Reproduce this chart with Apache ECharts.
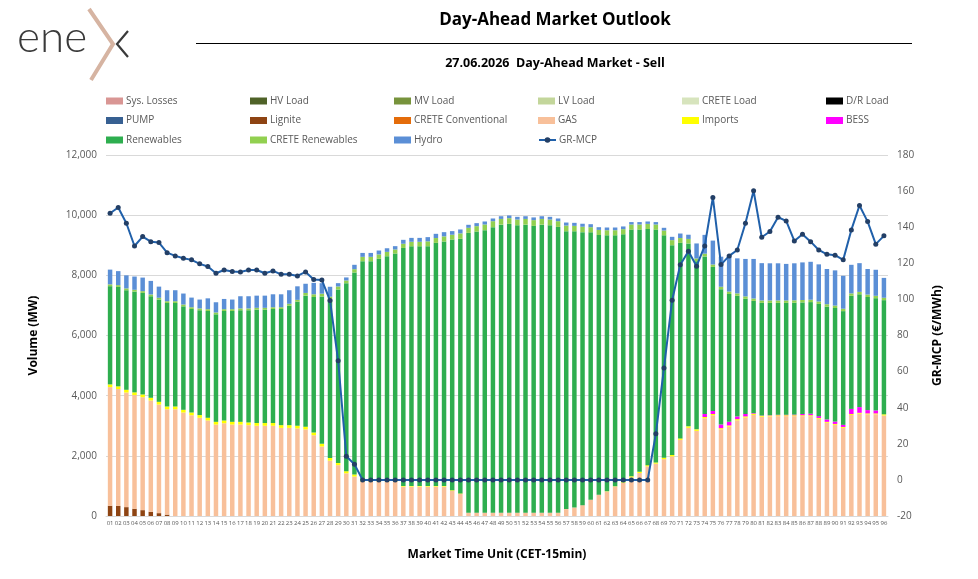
<!DOCTYPE html>
<html>
<head>
<meta charset="utf-8">
<title>Day-Ahead Market Outlook</title>
<script src="https://cdn.jsdelivr.net/npm/echarts@6/dist/echarts.min.js"></script>
<style>
html, body { margin: 0; padding: 0; background: #fff; }
#chart { width: 978px; height: 579px; }
</style>
</head>
<body>
<div id="chart"></div>
<script>
// market time units (15 min)
var mtu = ['01','02','03','04','05','06','07','08','09','10','11','12','13','14','15','16','17','18','19','20',
  '21','22','23','24','25','26','27','28','29','30','31','32','33','34','35','36','37','38','39','40',
  '41','42','43','44','45','46','47','48','49','50','51','52','53','54','55','56','57','58','59','60',
  '61','62','63','64','65','66','67','68','69','70','71','72','73','74','75','76','77','78','79','80',
  '81','82','83','84','85','86','87','88','89','90','91','92','93','94','95','96']

var lignite = [340,335,295,240,195,140,95,45,0,0,0,0,0,0,0,0,0,0,0,0,0,0,0,0,
  0,0,0,0,0,0,0,0,0,0,0,0,0,0,0,0,0,0,0,0,0,0,0,0,
  0,0,0,0,0,0,0,0,0,0,0,0,0,0,0,0,0,0,0,0,0,0,0,0,
  0,0,0,0,0,0,0,0,0,0,0,0,0,0,0,0,0,0,0,0,0,0,0,0]
var gas = [3945,3885,3810,3780,3755,3700,3610,3505,3550,3440,3350,3265,3175,3040,3085,3040,3040,3020,3000,3000,3000,2930,2930,2910,
  2880,2685,2310,1840,1690,1420,1310,1140,1140,1140,1140,1140,975,975,975,975,975,975,840,730,110,110,110,110,
  110,110,110,110,110,110,110,110,230,280,360,540,710,810,980,1100,1280,1430,1650,1740,1890,1980,2530,2930,
  2830,3250,3350,2880,2970,3180,3270,3360,3300,3310,3320,3320,3320,3320,3320,3230,3100,3030,2930,3360,3400,3380,3380,3340]
var imports = [90,90,90,90,90,90,90,90,90,90,90,90,90,90,90,90,90,90,90,90,90,90,90,90,
  90,90,90,90,70,70,70,50,30,30,30,30,20,20,20,20,20,20,20,20,0,0,0,0,
  0,0,0,0,0,0,0,0,0,0,0,0,0,10,10,20,40,40,40,40,50,50,50,50,
  50,40,40,40,40,40,40,40,30,30,30,30,30,30,30,30,30,30,30,30,30,30,30,40]
var bess = [0,0,0,0,0,0,0,0,0,0,0,0,0,0,0,0,0,0,0,0,0,0,0,0,
  0,0,0,0,0,0,0,0,0,0,0,0,0,0,0,0,0,0,0,0,0,0,0,0,
  0,0,0,0,0,0,0,0,0,0,0,0,0,0,0,0,0,0,0,0,0,0,0,0,
  0,100,100,120,120,90,80,20,10,10,15,15,20,40,50,60,80,80,70,170,190,110,100,0]
var renewables = [3265,3305,3310,3350,3375,3375,3400,3440,3440,3440,3440,3485,3550,3575,3640,3685,3710,3730,3770,3770,3790,3860,3975,4125,
  4355,4505,4900,5270,5770,6250,6715,7280,7300,7380,7465,7555,7915,7970,7970,7975,8085,8130,8330,8465,9300,9345,9390,9490,
  9575,9600,9555,9575,9535,9575,9555,9500,9235,9185,9075,8890,8630,8510,8340,8245,8200,8050,7850,7740,7390,6970,6500,6080,
  5590,5240,4790,4500,4250,4010,3830,3730,3745,3735,3720,3720,3720,3710,3710,3730,3750,3775,3780,3760,3750,3760,3730,3795]
var creteRen = [60,60,60,60,60,60,60,60,60,60,60,60,60,60,60,60,60,60,60,60,60,60,60,60,
  90,90,90,90,100,90,110,145,145,145,145,135,140,150,150,160,160,170,160,180,170,180,190,200,
  190,190,190,190,190,190,190,190,190,180,180,170,170,170,170,170,170,170,170,170,160,170,160,150,
  90,90,80,80,80,80,80,80,80,80,80,80,80,80,80,80,80,80,80,80,80,80,80,80]
var hydro = [490,465,435,440,450,450,370,365,365,365,320,295,360,340,340,320,405,405,405,405,430,430,450,450,
  305,380,350,330,110,100,145,130,130,130,120,110,130,130,130,140,140,140,120,130,100,100,100,90,
  90,90,90,90,90,90,90,90,100,100,100,100,90,90,90,90,80,80,80,80,90,110,150,140,
  500,625,795,1000,1210,1165,1245,1315,1240,1235,1235,1215,1230,1250,1260,1235,1170,1170,1095,950,955,850,865,660]
var mcp = [147.7,150.9,142.2,129.6,134.8,132.0,131.5,125.9,124.1,122.8,121.9,119.7,118.2,114.5,116.3,115.4,115.2,116.3,116.3,114.5,115.8,113.9,113.9,113.0,
  115.2,111.0,110.7,99.4,66.0,13.1,8.7,0,0,0,0,0,0,0,0,0,0,0,0,0,0,0,0,0,
  0,0,0,0,0,0,0,0,0,0,0,0,0,0,0,0,0,0,0,25.5,62.0,99.5,119.2,126.7,
  118.4,129.6,156.5,119.3,124.1,127.4,142.2,160.2,134.4,137.6,145.5,143.5,132.4,136.1,132.0,127.4,125.0,124.5,121.9,138.5,152.0,143.1,130.6,135.2]

var legendNames = ['Sys. Losses','HV Load','MV Load','LV Load','CRETE Load','D/R Load',
  'PUMP','Lignite','CRETE Conventional','GAS','Imports','BESS',
  'Renewables','CRETE Renewables','Hydro','GR-MCP']

var font = "'Open Sans', sans-serif"
var chart = echarts.init(document.getElementById('chart'))

function stackBar(name, color, data) {
  return {
    name: name,
    type: 'bar',
    stack: 'vol',
    barWidth: '55%',
    itemStyle: { color: color },
    emphasis: { disabled: true },
    data: data
  }
}

// one legend per entry so columns line up
var legends = legendNames.map(function (n, i) {
  return {
    data: [n],
    left: 106 + (i % 6) * 144,
    top: 96 + Math.floor(i / 6) * 19.5,
    padding: 0,
    itemWidth: 17,
    itemHeight: 7,
    icon: n === 'GR-MCP' ? undefined : 'rect',
    textStyle: { color: '#595959', fontSize: 10, fontFamily: font, padding: [0, 0, 0, -2] }
  }
})

chart.setOption({
  animation: false,
  textStyle: { fontFamily: font },
  legend: legends,
  graphic: [
    { type: 'text', left: 17, top: 16, style: { text: 'ene', fontSize: 44, fontFamily: 'Lato, sans-serif', fontWeight: 300, fill: '#3a3a3a' } },
    { type: 'polyline', shape: { points: [[89, 9], [113, 44], [91, 80]] }, style: { stroke: '#d6b4a2', lineWidth: 4, fill: null } },
    { type: 'polyline', shape: { points: [[128, 31], [117, 44], [128, 57]] }, style: { stroke: '#3a3a3a', lineWidth: 2.2, fill: null } },
    { type: 'text', x: 555, y: 20, style: { text: 'Day-Ahead Market Outlook', align: 'center', verticalAlign: 'middle', fontSize: 17, fontWeight: 'bold', fontFamily: font, fill: '#000' } },
    { type: 'line', shape: { x1: 196, y1: 43.5, x2: 912, y2: 43.5 }, style: { stroke: '#000', lineWidth: 1 } },
    { type: 'text', x: 555, y: 63, style: { text: '27.06.2026  Day-Ahead Market - Sell', align: 'center', verticalAlign: 'middle', fontSize: 12.5, fontWeight: 'bold', fontFamily: font, fill: '#000' } }
  ],
  grid: { left: 106, right: 90, top: 155, bottom: 63 },
  xAxis: {
    type: 'category',
    data: mtu,
    name: 'Market Time Unit (CET-15min)',
    nameLocation: 'middle',
    nameGap: 33,
    nameTextStyle: { fontSize: 12, fontWeight: 'bold', color: '#000', fontFamily: font },
    axisLine: { lineStyle: { color: '#d9d9d9' } },
    axisTick: { show: false },
    axisLabel: { interval: 0, fontSize: 6, color: '#595959', margin: 4 }
  },
  yAxis: [
    {
      type: 'value',
      min: 0,
      max: 12000,
      interval: 2000,
      name: 'Volume (MW)',
      nameLocation: 'middle',
      nameRotate: 90,
      nameGap: 66,
      nameTextStyle: { fontSize: 12, fontWeight: 'bold', color: '#000', fontFamily: font },
      axisLabel: { color: '#595959', fontSize: 10, margin: 9, formatter: function (v) { return v.toLocaleString('en-US') } },
      splitLine: { lineStyle: { color: '#d9d9d9' } }
    },
    {
      type: 'value',
      min: -20,
      max: 180,
      interval: 20,
      name: 'GR-MCP (€/MWh)',
      nameLocation: 'middle',
      nameRotate: 90,
      nameGap: 44,
      nameTextStyle: { fontSize: 12, fontWeight: 'bold', color: '#000', fontFamily: font },
      axisLabel: { color: '#595959', fontSize: 10, margin: 9 },
      splitLine: { show: false }
    }
  ],
  series: [
    stackBar('Sys. Losses', '#d99694', []),
    stackBar('HV Load', '#4f6228', []),
    stackBar('MV Load', '#77933c', []),
    stackBar('LV Load', '#c3d69b', []),
    stackBar('CRETE Load', '#d7e4bd', []),
    stackBar('D/R Load', '#000000', []),
    stackBar('PUMP', '#376092', []),
    stackBar('Lignite', '#8e4413', lignite),
    stackBar('CRETE Conventional', '#e46c0a', []),
    stackBar('GAS', '#f8c09a', gas),
    stackBar('Imports', '#ffff00', imports),
    stackBar('BESS', '#ff00ff', bess),
    stackBar('Renewables', '#2eae4f', renewables),
    stackBar('CRETE Renewables', '#92d050', creteRen),
    stackBar('Hydro', '#5b8fd6', hydro),
    {
      name: 'GR-MCP',
      type: 'line',
      yAxisIndex: 1,
      data: mcp,
      symbol: 'circle',
      symbolSize: 5,
      lineStyle: { color: '#2060aa', width: 2 },
      itemStyle: { color: '#233f66' },
      emphasis: { disabled: true }
    }
  ]
})
</script>
</body>
</html>
